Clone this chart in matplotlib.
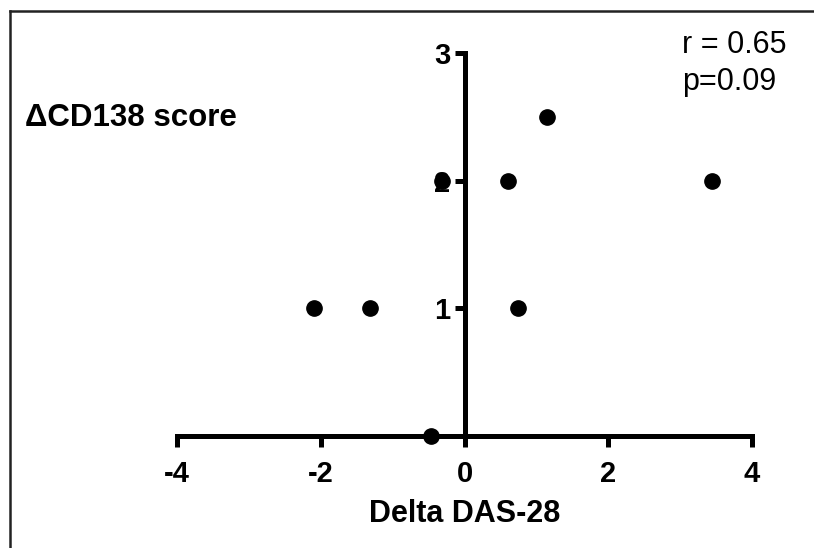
import matplotlib
matplotlib.use("Agg")
import matplotlib.pyplot as plt
from matplotlib.lines import Line2D

delta_das28 = [-2.10, -1.32, 0.74, -0.47, -0.32, 0.61, 1.15, 3.45]
delta_cd138 = [1, 1, 1, 0, 2, 2, 2.5, 2]
x_ticks = [-4, -2, 0, 2, 4]
y_ticks = [1, 2, 3]

plt.rcParams['font.family'] = ['Liberation Sans', 'DejaVu Sans']

fig = plt.figure(figsize=(8.14, 5.48), dpi=100)
ax = fig.add_axes([177/814, 1-436/548, 575/814, 383/548])
ax.set_xlim(-4, 4)
ax.set_ylim(0, 3)

ax.plot(delta_das28, delta_cd138, 'o', color='black', ms=11, clip_on=False, zorder=10)

for s in ['top', 'right']:
    ax.spines[s].set_visible(False)
ax.spines['left'].set_position(('data', 0))
ax.spines['bottom'].set_position(('data', 0))
ax.spines['left'].set_linewidth(3.6)
ax.spines['bottom'].set_linewidth(3.6)
ax.spines['left'].set_capstyle('projecting')
ax.spines['bottom'].set_capstyle('projecting')

ax.set_xticks(x_ticks)
ax.set_xticklabels([str(v) for v in x_ticks], fontsize=21, fontweight='bold')
ax.set_yticks(y_ticks)
ax.set_yticklabels([str(v) for v in y_ticks], fontsize=21, fontweight='bold')
ax.tick_params(axis='x', direction='out', length=8, width=3.6, pad=9)
ax.tick_params(axis='y', direction='out', length=7, width=3.6, pad=3)
for lbl in ax.get_yticklabels():
    lbl.set_zorder(1)

ax.set_xlabel('Delta DAS-28', fontsize=22, fontweight='bold')
ax.xaxis.set_label_coords(0.5, -0.165)

fig.text(25/814, 1-118/548, '\u0394CD138 score', fontsize=22.5, fontweight='bold',
         ha='left', va='center')
fig.text(682/814, 1-45/548, 'r = 0.65', fontsize=22, ha='left', va='center')
fig.text(682/814, 1-82/548, 'p=0.09', fontsize=22, ha='left', va='center')

# figure frame (left and top edges)
fig.add_artist(Line2D([10/814, 10/814], [0, 1-11/548], transform=fig.transFigure,
                      color='#222222', lw=1.8))
fig.add_artist(Line2D([10/814, 1], [1-11/548, 1-11/548], transform=fig.transFigure,
                      color='#222222', lw=1.8))

fig.savefig('out.png', dpi=100)
